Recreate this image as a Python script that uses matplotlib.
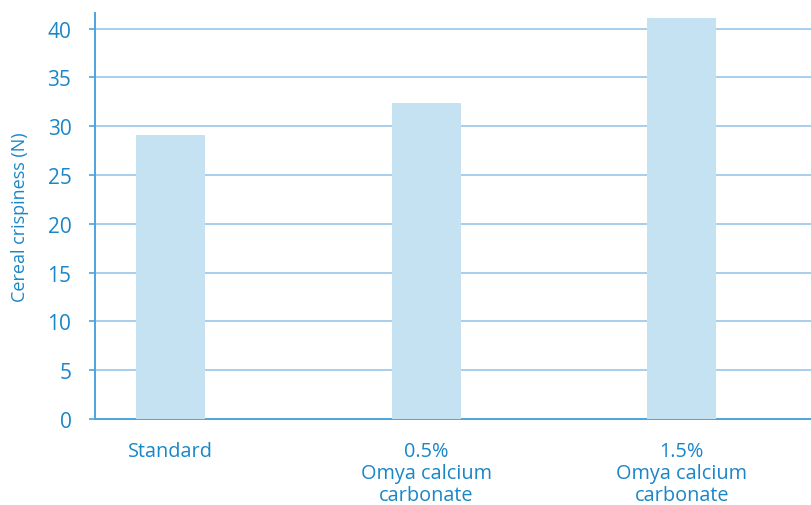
import matplotlib.pyplot as plt
import numpy as np

categories = ['Standard', '0.5%\nOmya calcium\ncarbonate', '1.5%\nOmya calcium\ncarbonate']
crispiness = [29.1, 32.4, 41.1]
yticks = [0, 5, 10, 15, 20, 25, 30, 35, 40]

blue = '#1a86c8'
plt.rcParams['font.family'] = ['Open Sans', 'DejaVu Sans']

fig = plt.figure(figsize=(8.11, 5.06), dpi=100)
ax = fig.add_axes([95 / 811, 86 / 506, 716 / 811, 406 / 506])

x = np.arange(len(categories))
ax.bar(x, crispiness, width=0.27, color='#c5e2f2', zorder=3)

ax.set_xlim(-0.295, 2.506)
ax.set_ylim(0, 41.6)
ax.set_yticks(yticks)
ax.set_xticks(x)
ax.set_xticklabels(categories, linespacing=1.12)
ax.yaxis.grid(True, color='#8ec2ea', linewidth=1.1, zorder=0)
ax.set_axisbelow(True)

for s in ['top', 'right']:
    ax.spines[s].set_visible(False)
ax.spines['left'].set_color('#4fa3dd')
ax.spines['bottom'].set_color('#4fa3dd')
ax.spines['left'].set_linewidth(1.4)
ax.spines['bottom'].set_linewidth(1.4)

ax.tick_params(axis='y', colors='#4fa3dd', labelcolor=blue, labelsize=15,
               length=4, width=1.2, pad=13)
ax.tick_params(axis='x', length=0, labelcolor=blue, labelsize=14.3, pad=16)

ax.set_ylabel('Cereal crispiness (N)', color=blue, fontsize=13, labelpad=13)

fig.savefig('out.png', dpi=100)
